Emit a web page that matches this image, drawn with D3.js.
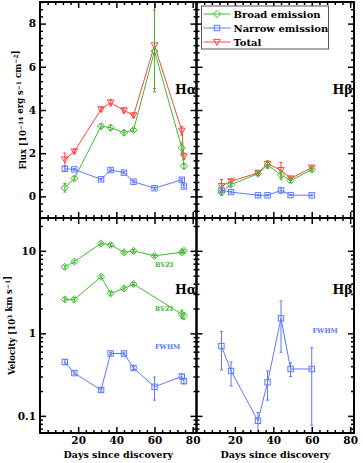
<!DOCTYPE html>
<html>
<head>
<meta charset="utf-8">
<script src="https://cdn.jsdelivr.net/npm/d3@7"></script>
<style>
body { margin: 0; background: #fff; }
text { font-family: "DejaVu Serif", serif; font-weight: bold; }
</style>
</head>
<body>
<div id="chart"></div>
<script>
// Halpha / Hbeta line fluxes and velocities vs days since discovery

var days = [13, 18, 32, 37, 44, 49, 60, 74.3, 75.4];
var haBroad = [0.40, 0.83, 3.25, 3.18, 2.95, 3.07, 6.73, 2.25, 1.40];
var haBroadErr = [0.2, 0.08, 0.1, 0.12, 0.1, 0.08, 1.9, 0.25, 0.1];
var haNarrow = [1.28, 1.25, 0.79, 1.22, 1.10, 0.68, 0.38, 0.77, 0.46];
var haNarrowErr = [0.1, 0.04, 0.04, 0.05, 0.05, 0.05, 0.05, 0.06, 0.06];
var haTotal = [1.71, 2.08, 4.03, 4.34, 3.98, 3.75, 6.99, 3.04, 1.85];
var haTotalErr = [0.3, 0.08, 0.08, 0.15, 0.12, 0.1, 2.0, 0.2, 0.15];

var hbDays = [13, 18, 32, 37, 44, 49, 60];
var hbBroad = [0.19, 0.55, 1.05, 1.45, 0.99, 0.73, 1.24];
var hbBroadErr = [0.15, 0.08, 0.08, 0.15, 0.2, 0.08, 0.08];
var hbNarrow = [0.28, 0.20, 0.05, 0.05, 0.28, 0.06, 0.05];
var hbNarrowErr = [0.05, 0.04, 0.03, 0.03, 0.12, 0.03, 0.03];
var hbTotal = [0.48, 0.70, 1.09, 1.50, 1.22, 0.83, 1.33];
var hbTotalErr = [0.3, 0.08, 0.08, 0.15, 0.35, 0.08, 0.08];

var bvzi = [6.4, 7.4, 12.3, 11.8, 9.6, 10.0, 8.7, 9.6, 10.0];
var bvziErr = [0.3, 0.3, 0.5, 0.5, 0.4, 0.4, 0.3, 0.4, 0.4];
var rvziDays = [13, 18, 32, 37, 44, 49, 74.3, 75.4];
var rvzi = [2.58, 2.58, 4.85, 3.05, 3.5, 3.96, 1.71, 1.63];
var rvziErr = [0.12, 0.12, 0.2, 0.15, 0.15, 0.15, 0.2, 0.15];
var haFwhm = [0.45, 0.33, 0.206, 0.57, 0.57, 0.38, 0.225, 0.30, 0.264];
var haFwhmErr = [0.03, 0.01, 0.01, 0.02, 0.02, 0.015, 0.07, 0.02, 0.02];

var hbFwhm = [0.70, 0.35, 0.087, 0.255, 1.52, 0.37, 0.37];
var hbFwhmLo = [0.36, 0.23, 0.06, 0.155, 0.59, 0.30, 0.077];
var hbFwhmHi = [1.05, 0.45, 0.11, 0.35, 2.47, 0.44, 0.67];

var fluxTicks = [0, 2, 4, 6, 8];
var velTicks = [0.1, 1, 10];
var dayTicks = [20, 40, 60, 80];

var green = "#3fbb2f", blue = "#5b78ff", red = "#ff4242";

var width = 363, height = 463;
var L = 40, M = 196.5, R = 354, T = 2, MID = 218, B = 433;

var svg = d3.select("#chart").append("svg")
	.attr("width", width)
	.attr("height", height);

var defs = svg.append("defs");

// markers
function marker(g, kind, col) {
	if (kind == "diamond") {
		g.append("path").attr("d", "M0,-3.6L3.6,0L0,3.6L-3.6,0Z");
	} else if (kind == "square") {
		g.append("rect").attr("x", -2.7).attr("y", -2.7).attr("width", 5.4).attr("height", 5.4);
	} else {
		g.append("path").attr("d", "M-3.3,-2.6L3.3,-2.6L0,3.4Z");
	}
	g.selectAll("path,rect").attr("fill", "none").attr("stroke", col).attr("stroke-width", 1);
}

function makePanel(id, x0, x1, y0, y1, yScale, opts) {
	var w = x1 - x0, h = y1 - y0;
	var x = d3.scaleLinear().domain([0, 82]).range([0, w]);
	var g = svg.append("g").attr("transform", "translate(" + x0 + "," + y0 + ")");

	defs.append("clipPath").attr("id", "clip" + id)
		.append("rect").attr("width", w).attr("height", h);

	var data = g.append("g").attr("clip-path", "url(#clip" + id + ")");

	// axes: majors and minors, all pointing inward
	var yMajor = opts.yMajor, yMinor = opts.yMinor;
	var xMinor = d3.range(4, 82, 4).filter(function(d) { return d % 20 != 0; });

	function ax(axis, tr, vals, size, fmt) {
		var a = g.append("g").attr("transform", tr)
			.call(axis.tickValues(vals).tickSize(-size).tickPadding(4).tickFormat(fmt || ""));
		a.select(".domain").remove();
		a.selectAll("line").attr("stroke", "#000").attr("stroke-width", 1.5);
		a.selectAll("text").attr("fill", "#000").style("font-size", "10.5px");
		return a;
	}
	var none = function() { return ""; };
	ax(d3.axisLeft(yScale), "translate(0,0)", yMajor, 6, opts.yLabels ? opts.yFmt : none);
	ax(d3.axisLeft(yScale), "translate(0,0)", yMinor, 3, none);
	ax(d3.axisRight(yScale), "translate(" + w + ",0)", yMajor, 6, none);
	ax(d3.axisRight(yScale), "translate(" + w + ",0)", yMinor, 3, none);
	ax(d3.axisTop(x), "translate(0,0)", dayTicks, 6, none);
	ax(d3.axisTop(x), "translate(0,0)", xMinor, 3, none);
	ax(d3.axisBottom(x), "translate(0," + h + ")", dayTicks, 6, opts.xLabels ? d3.format("d") : none);
	ax(d3.axisBottom(x), "translate(0," + h + ")", xMinor, 3, none);

	g.append("rect").attr("width", w).attr("height", h)
		.attr("fill", "none").attr("stroke", "#000").attr("stroke-width", 2);

	return { g: g, data: data, x: x, y: yScale, w: w, h: h };
}

function series(p, xs, ys, lo, hi, col, kind) {
	var pts = xs.map(function(d, i) { return { x: d, y: ys[i], lo: lo[i], hi: hi[i] }; });
	p.data.append("path").datum(pts)
		.attr("fill", "none").attr("stroke", col).attr("stroke-width", 1)
		.attr("d", d3.line().x(function(d) { return p.x(d.x); }).y(function(d) { return p.y(d.y); }));
	var eb = p.data.append("g").attr("stroke", col).attr("stroke-width", 1);
	pts.forEach(function(d) {
		var cx = p.x(d.x);
		eb.append("line").attr("x1", cx).attr("x2", cx).attr("y1", p.y(d.lo)).attr("y2", p.y(d.hi));
		eb.append("line").attr("x1", cx - 1.5).attr("x2", cx + 1.5).attr("y1", p.y(d.lo)).attr("y2", p.y(d.lo));
		eb.append("line").attr("x1", cx - 1.5).attr("x2", cx + 1.5).attr("y1", p.y(d.hi)).attr("y2", p.y(d.hi));
	});
	pts.forEach(function(d) {
		marker(p.data.append("g").attr("transform", "translate(" + p.x(d.x) + "," + p.y(d.y) + ")"), kind, col);
	});
}

function sym(vals, errs, sign) {
	return vals.map(function(v, i) { return v + sign * errs[i]; });
}

// flux panels
var yFlux = d3.scaleLinear().domain([-1, 9]).range([MID - T, 0]);
var fluxMinor = d3.range(0, 31).map(function(k) { return -1 + k / 3; })
	.filter(function(d) { return Math.abs(d / 2 - Math.round(d / 2)) > 0.01; });
var yVel = d3.scaleLog().domain([0.062, 25]).range([B - MID, 0]);
var velMinor = [0.07, 0.08, 0.09, 0.2, 0.3, 0.4, 0.5, 0.6, 0.7, 0.8, 0.9, 2, 3, 4, 5, 6, 7, 8, 9, 20];

var p1 = makePanel("a", L, M, T, MID, yFlux, { yMajor: fluxTicks, yMinor: fluxMinor, yLabels: true, yFmt: d3.format("d") });
var p2 = makePanel("b", M, R, T, MID, yFlux, { yMajor: fluxTicks, yMinor: fluxMinor });
var p3 = makePanel("c", L, M, MID, B, yVel, { yMajor: velTicks, yMinor: velMinor, yLabels: true, yFmt: function(d) { return d < 1 ? "0.1" : d3.format("d")(d); }, xLabels: true });
var p4 = makePanel("d", M, R, MID, B, yVel, { yMajor: velTicks, yMinor: velMinor, xLabels: true });

series(p1, days, haTotal, sym(haTotal, haTotalErr, -1), sym(haTotal, haTotalErr, 1), red, "tri");
series(p1, days, haBroad, sym(haBroad, haBroadErr, -1), sym(haBroad, haBroadErr, 1), green, "diamond");
series(p1, days, haNarrow, sym(haNarrow, haNarrowErr, -1), sym(haNarrow, haNarrowErr, 1), blue, "square");

series(p2, hbDays, hbTotal, sym(hbTotal, hbTotalErr, -1), sym(hbTotal, hbTotalErr, 1), red, "tri");
series(p2, hbDays, hbBroad, sym(hbBroad, hbBroadErr, -1), sym(hbBroad, hbBroadErr, 1), green, "diamond");
series(p2, hbDays, hbNarrow, sym(hbNarrow, hbNarrowErr, -1), sym(hbNarrow, hbNarrowErr, 1), blue, "square");

series(p3, days, bvzi, sym(bvzi, bvziErr, -1), sym(bvzi, bvziErr, 1), green, "diamond");
series(p3, rvziDays, rvzi, sym(rvzi, rvziErr, -1), sym(rvzi, rvziErr, 1), green, "diamond");
series(p3, days, haFwhm, sym(haFwhm, haFwhmErr, -1), sym(haFwhm, haFwhmErr, 1), blue, "square");

series(p4, hbDays, hbFwhm, hbFwhmLo, hbFwhmHi, blue, "square");

// panel labels
function label(p, txt, x, y, size, col) {
	p.g.append("text").attr("x", x).attr("y", y).attr("fill", col || "#000")
		.style("font-size", size + "px").text(txt);
}
label(p1, "H\u03b1", 135, 92, 12.5);
label(p2, "H\u03b2", 136, 92, 12.5);
label(p3, "H\u03b1", 135, 76, 12.5);
label(p4, "H\u03b2", 136, 76, 12.5);
label(p3, "BVZI", 115, 49, 6.5, green);
label(p3, "RVZI", 115, 93, 6.5, green);
label(p3, "FWHM", 115, 131, 6.5, blue);
label(p4, "FWHM", 116, 115, 6.5, blue);

// x titles
[p3, p4].forEach(function(p) {
	p.g.append("text").attr("x", p.w / 2).attr("y", p.h + 25)
		.attr("text-anchor", "middle").style("font-size", "9.5px")
		.text("Days since discovery");
});

// y titles with superscripts
function ytitle(cx, cy, parts) {
	var t = svg.append("text")
		.attr("transform", "translate(" + cx + "," + cy + ") rotate(-90)")
		.attr("text-anchor", "middle").style("font-size", "8.5px");
	parts.forEach(function(s) {
		if (s[1]) {
			t.append("tspan").attr("dy", "-0.45em").style("font-size", "6px").text(s[0]);
			t.append("tspan").attr("dy", "0.45em").text("");
		} else {
			t.append("tspan").text(s[0]);
		}
	});
}
ytitle(26, (T + MID) / 2, [["Flux [10", 0], ["\u221214", 1], [" erg s", 0], ["\u22121", 1], [" cm", 0], ["\u22122", 1], ["]", 0]]);
ytitle(15, (MID + B) / 2, [["Velocity [10", 0], ["3", 1], [" km s", 0], ["\u22121", 1], ["]", 0]]);

// legend
var lg = svg.append("g").attr("transform", "translate(201.5,6)");
lg.append("rect").attr("width", 127).attr("height", 43)
	.attr("fill", "#fff").attr("stroke", "#555").attr("stroke-width", 1);
var legendItems = [["Broad emission", green, "diamond"], ["Narrow emission", blue, "square"], ["Total", red, "tri"]];
legendItems.forEach(function(d, i) {
	var row = lg.append("g").attr("transform", "translate(0," + (8 + i * 14) + ")");
	row.append("line").attr("x1", 2).attr("x2", 29).attr("stroke", d[1]).attr("stroke-width", 1);
	marker(row.append("g").attr("transform", "translate(15.5,0)"), d[2], d[1]);
	row.append("text").attr("x", 32).attr("y", 4).style("font-size", "10px").text(d[0]);
});
</script>
</body>
</html>
